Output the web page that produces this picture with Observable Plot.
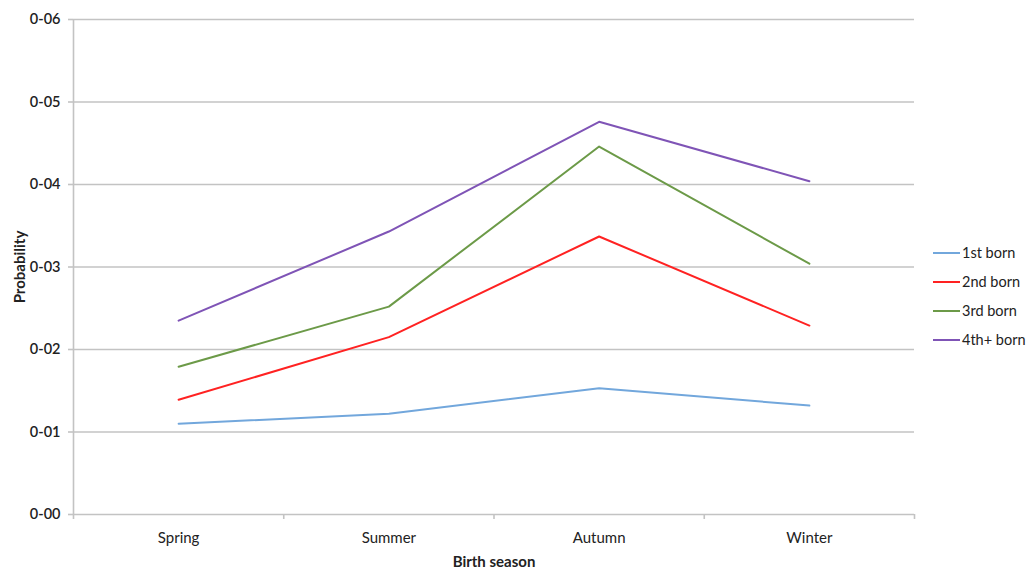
<!DOCTYPE html>
<html>
<head>
<meta charset="utf-8">
<script src="https://cdn.jsdelivr.net/npm/d3@7"></script>
<script src="https://cdn.jsdelivr.net/npm/@observablehq/plot@0.6"></script>
<style>
  body { margin: 0; background: #fff; }
  #wrap { position: relative; width: 1032px; height: 570px; font-family: Lato, "Open Sans", sans-serif; }
  #legend { position: absolute; left: 933px; top: 238px; font-size: 14.5px; color: #222; }
  .item { display: flex; align-items: center; height: 29px; }
  .sw { width: 27px; height: 2px; margin-right: 2px; }
</style>
</head>
<body>
<div id="wrap"><div id="legend"></div></div>
<script>
const seasons = ["Spring", "Summer", "Autumn", "Winter"];
const series = ["1st born", "2nd born", "3rd born", "4th+ born"];
const colors = ["#72a7dc", "#ff2222", "#6c9a48", "#7f54b6"];
const firstBorn  = [0.0110, 0.0122, 0.0153, 0.0132];
const secondBorn = [0.0139, 0.0215, 0.0337, 0.0229];
const thirdBorn  = [0.0179, 0.0252, 0.0446, 0.0304];
const fourthBorn = [0.0235, 0.0343, 0.0476, 0.0404];
const yTicks = [0, 0.01, 0.02, 0.03, 0.04, 0.05, 0.06];
const yTickLabels = ["0-00", "0-01", "0-02", "0-03", "0-04", "0-05", "0-06"];

const values = [firstBorn, secondBorn, thirdBorn, fourthBorn];
const data = [];
series.forEach((s, i) => seasons.forEach((season, j) => data.push({series: s, idx: j, season, value: values[i][j]})));
const idxs = seasons.map((_, i) => i);
const bounds = [-0.5, 0.5, 1.5, 2.5, 3.5];

const grid = "#c3c3c3";
const chart = Plot.plot({
  width: 1032,
  height: 570,
  marginLeft: 73,
  marginRight: 118,
  marginTop: 19,
  marginBottom: 56,
  style: {fontFamily: "Lato, 'Open Sans', sans-serif", background: "#fff", color: "#222"},
  x: {type: "linear", domain: [-0.5, 3.5]},
  y: {type: "linear", domain: [0, 0.06]},
  color: {domain: series, range: colors},
  marks: [
    Plot.ruleY(yTicks, {stroke: grid, strokeWidth: 1.6}),
    Plot.ruleX([-0.5], {y1: 0, y2: 0.06, stroke: grid, strokeWidth: 1.6}),
    Plot.axisX({ticks: bounds, tickFormat: () => "", tickSize: 5, stroke: grid, strokeWidth: 1.6, label: null}),
    Plot.axisY({ticks: yTicks, tickFormat: (d, i) => yTickLabels[i], tickSize: 5, tickPadding: 8, stroke: grid, strokeWidth: 1.6, fontSize: 14.5, fontWeight: 600, label: null}),
    Plot.axisX({ticks: idxs, tickFormat: i => seasons[i], tickSize: 0, tickPadding: 18, fontSize: 15, label: null}),
    Plot.text(["Birth season"], {frameAnchor: "bottom", dy: 52, fontSize: 15, fontWeight: "bold", fill: "#222"}),
    Plot.text(["Probability"], {frameAnchor: "left", textAnchor: "middle", dx: -53, rotate: -90, fontSize: 15, fontWeight: "bold", fill: "#222"}),
    Plot.line(data, {x: "idx", y: "value", z: "series", stroke: "series", strokeWidth: 2})
  ]
});
document.getElementById("wrap").prepend(chart);
const leg = document.getElementById("legend");
series.forEach((s, i) => {
  const d = document.createElement("div");
  d.className = "item";
  d.innerHTML = `<span class="sw" style="background:${colors[i]}"></span><span>${s}</span>`;
  leg.appendChild(d);
});
</script>
</body>
</html>
